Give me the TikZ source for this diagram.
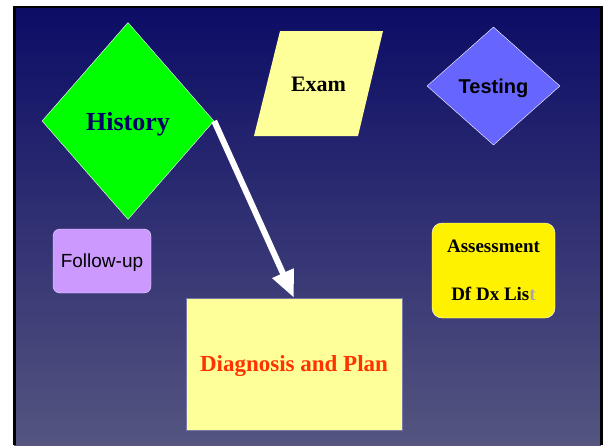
\documentclass[tikz,border=0pt]{standalone}
\usepackage{fontspec}
\setmainfont{Liberation Serif}
\setsansfont{Liberation Sans}
\usetikzlibrary{shapes.geometric,arrows.meta}
\definecolor{slidetop}{RGB}{12,12,102}
\definecolor{slidebottom}{RGB}{85,85,128}
\definecolor{paleyellow}{RGB}{255,255,153}
\definecolor{histgreen}{RGB}{0,255,0}
\definecolor{histtext}{RGB}{0,0,102}
\definecolor{testblue}{RGB}{102,102,255}
\definecolor{lilac}{RGB}{204,153,255}
\definecolor{planred}{RGB}{255,51,0}
\definecolor{planedge}{RGB}{120,120,170}

\begin{document}
\begin{tikzpicture}[x=1pt,y=-1pt,
		shape box/.style={inner sep=0pt,align=center,text depth=0pt},
		serif label/.style={font=\bfseries\fontsize{#1}{#1}\selectfont},
		sans label/.style={font=\sffamily\fontsize{#1}{#1}\selectfont},
		sans bold label/.style={font=\sffamily\bfseries\fontsize{#1}{#1}\selectfont}]
		\useasboundingbox (0,0) rectangle (603,445);
		\shade[top color=slidetop,bottom color=slidebottom] (14,7) rectangle (601,445);
		\fill[black] (13,6) rectangle (16,445);
		\fill[black] (13,6) rectangle (603,8);
		\fill[black] (600,6) rectangle (603,445);
		\fill[paleyellow] (254,136) -- (280,31) -- (383,31) -- (358,136) -- cycle;
		\node[shape box,diamond,draw=white,fill=histgreen,minimum width=172pt,minimum height=197pt,text=histtext,serif label=26] (history) at (128,121) {History};
		\node[shape box,serif label=22] (exam) at (318.5,84) {Exam};
		\node[shape box,diamond,draw=white,fill=testblue,minimum width=133pt,minimum height=118pt,sans bold label=20] (testing) at (493.5,86) {Testing};
		\node[shape box,rectangle,rounded corners=7pt,draw=white!70!lilac,fill=lilac,minimum width=98pt,minimum height=64pt,sans label=19] (followup) at (102,261) {Follow-up};
		\node[shape box,rectangle,rounded corners=10pt,draw=white,fill=yellow,minimum width=123pt,minimum height=95pt,font=\bfseries\fontsize{19}{48}\selectfont] (assess) at (493.5,270.5) {Assessment\\Df Dx Lis\textcolor{black!35}{t}};
		\node[shape box,rectangle,draw=planedge,fill=paleyellow,minimum width=216pt,minimum height=132pt,text=planred,serif label=23] (plan) at (294,364) {Diagnosis and Plan};
		\draw[white,line width=6pt,-{Triangle[length=27pt,width=22pt]}] (history.east) -- (plan.north);
	\end{tikzpicture}
\end{document}
